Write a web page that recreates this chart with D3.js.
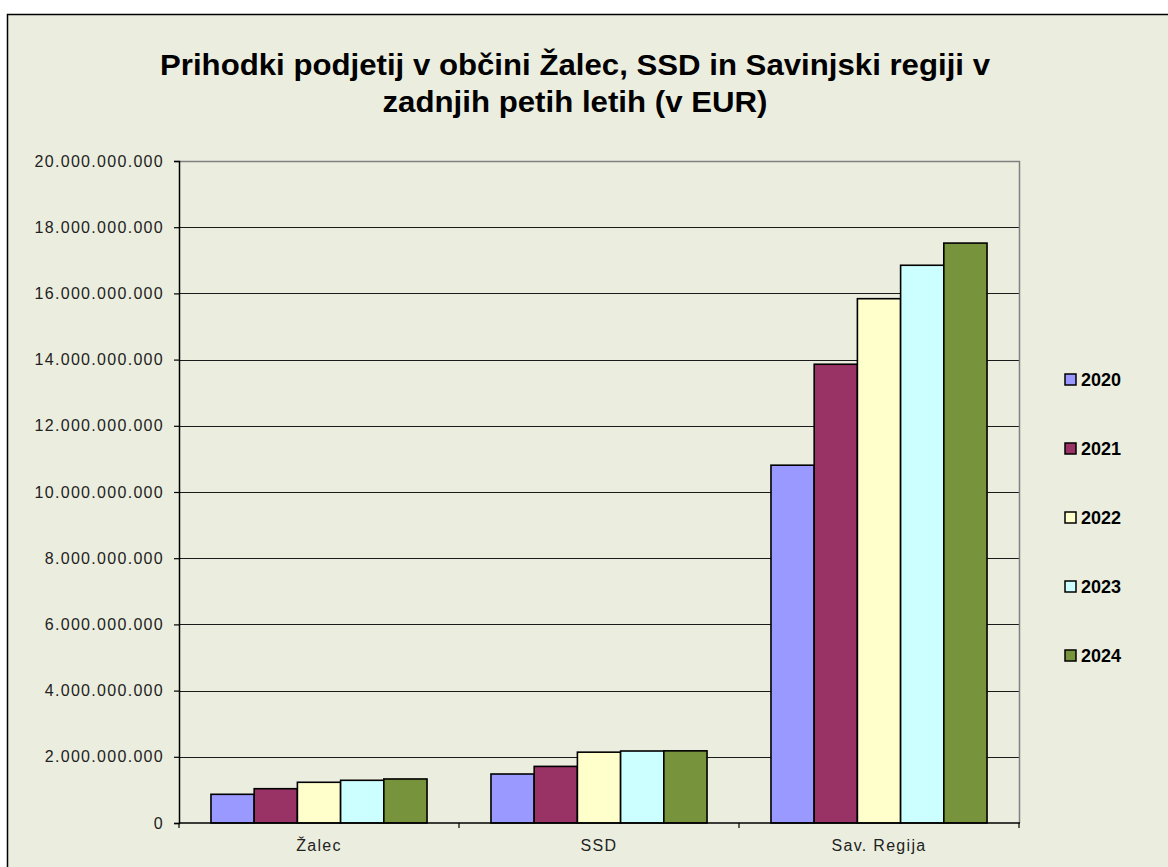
<!DOCTYPE html>
<html>
<head>
<meta charset="utf-8">
<script src="https://cdn.jsdelivr.net/npm/d3@7"></script>
<style>
  body { margin: 0; background: #fff; }
  svg { display: block; }
</style>
</head>
<body>
<div id="chart"></div>
<script>
// Podatki
const categories = ["Žalec", "SSD", "Sav. Regija"];
const years = ["2020", "2021", "2022", "2023", "2024"];
const values2020 = [0.867e9, 1.48e9, 10.81e9];
const values2021 = [1.036e9, 1.71e9, 13.86e9];
const values2022 = [1.23e9, 2.14e9, 15.84e9];
const values2023 = [1.29e9, 2.175e9, 16.85e9];
const values2024 = [1.33e9, 2.18e9, 17.52e9];
const yTicks = [0, 2e9, 4e9, 6e9, 8e9, 10e9, 12e9, 14e9, 16e9, 18e9, 20e9];
const colors = ["#9999FF", "#993366", "#FFFFCC", "#CCFFFF", "#77933C"];

const series = [values2020, values2021, values2022, values2023, values2024];

const width = 1168, height = 867;
const plot = { left: 179, top: 161, right: 1019, bottom: 823 };

const svg = d3.select("#chart").append("svg")
    .attr("width", width)
    .attr("height", height);

// Ozadje grafikona
svg.append("rect")
    .attr("x", 7.5).attr("y", 14.5)
    .attr("width", 1170).attr("height", 870)
    .attr("fill", "#EBEEDF")
    .attr("stroke", "#000")
    .attr("stroke-width", 1.5);

// Lestvice
const x0 = d3.scaleBand()
    .domain(categories)
    .range([plot.left, plot.right])
    .padding(0);

const x1 = d3.scaleBand()
    .domain(years)
    .range([0, x0.bandwidth()])
    .paddingInner(0)
    .paddingOuter(0.74);

const y = d3.scaleLinear()
    .domain([0, 20e9])
    .range([plot.bottom, plot.top]);

const fmt = d3.formatLocale({ decimal: ",", thousands: ".", grouping: [3], currency: ["", " €"] }).format(",");

// Mreža
svg.append("g")
    .selectAll("line")
    .data(yTicks.filter(d => d > 0 && d < 20e9))
    .enter().append("line")
    .attr("x1", plot.left).attr("x2", plot.right)
    .attr("y1", d => Math.round(y(d)) + 0.5)
    .attr("y2", d => Math.round(y(d)) + 0.5)
    .attr("stroke", "#1a1a1a")
    .attr("stroke-width", 1);

// Okvir risalne površine (zgoraj in desno)
svg.append("path")
    .attr("d", `M${plot.left},${plot.top + 0.5}H${plot.right + 0.5}V${plot.bottom}`)
    .attr("fill", "none")
    .attr("stroke", "#808080")
    .attr("stroke-width", 1.5);

// Stolpci
const groups = svg.append("g")
    .selectAll("g")
    .data(categories)
    .enter().append("g")
    .attr("transform", d => `translate(${x0(d)},0)`);

groups.selectAll("rect")
    .data((c, ci) => years.map((yr, i) => ({ year: yr, value: series[i][ci], color: colors[i] })))
    .enter().append("rect")
    .attr("x", d => x1(d.year))
    .attr("y", d => y(d.value))
    .attr("width", x1.bandwidth())
    .attr("height", d => plot.bottom - y(d.value))
    .attr("fill", d => d.color)
    .attr("stroke", "#000")
    .attr("stroke-width", 1.6);

// Os Y
const yAxis = svg.append("g")
    .attr("transform", `translate(${plot.left},0)`)
    .call(d3.axisLeft(y).tickValues(yTicks).tickFormat(fmt).tickSize(5).tickPadding(10));

yAxis.select(".domain").attr("stroke", "#000").attr("stroke-width", 1.5);
yAxis.selectAll(".tick line").attr("stroke", "#000").attr("stroke-width", 1.2);
yAxis.selectAll("text")
    .style("font-family", "Arial, 'Liberation Sans', sans-serif")
    .style("font-size", "16px")
    .style("letter-spacing", "1.3px")
    .attr("fill", "#222");

// Os X
const xAxisG = svg.append("g")
    .attr("transform", `translate(0,${plot.bottom})`);

xAxisG.append("line")
    .attr("x1", plot.left).attr("x2", plot.right + 1)
    .attr("y1", 0).attr("y2", 0)
    .attr("stroke", "#000").attr("stroke-width", 1.5);

xAxisG.selectAll(".xtick")
    .data(categories.map(c => x0(c)).concat([plot.right]))
    .enter().append("line")
    .attr("x1", d => d).attr("x2", d => d)
    .attr("y1", 0).attr("y2", 5)
    .attr("stroke", "#000").attr("stroke-width", 1.2);

xAxisG.selectAll(".xlabel")
    .data(categories)
    .enter().append("text")
    .attr("x", d => x0(d) + x0.bandwidth() / 2)
    .attr("y", 28)
    .attr("text-anchor", "middle")
    .style("font-family", "Arial, 'Liberation Sans', sans-serif")
    .style("font-size", "16px")
    .style("letter-spacing", "1.3px")
    .attr("fill", "#222")
    .text(d => d);

// Legenda
const legend = svg.append("g")
    .selectAll("g")
    .data(years)
    .enter().append("g")
    .attr("transform", (d, i) => `translate(1065,${374 + i * 69})`);

legend.append("rect")
    .attr("width", 11).attr("height", 11)
    .attr("fill", (d, i) => colors[i])
    .attr("stroke", "#000")
    .attr("stroke-width", 1.5);

legend.append("text")
    .attr("x", 16)
    .attr("y", 12)
    .style("font-family", "Arial, 'Liberation Sans', sans-serif")
    .style("font-size", "18px")
    .style("font-weight", "700")
    .attr("fill", "#000")
    .text(d => d);

// Naslov
const titleLines = [
    { text: "Prihodki podjetij v občini Žalec, SSD in Savinjski regiji v", y: 75, len: 830 },
    { text: "zadnjih petih letih (v EUR)", y: 112, len: 385 }
];

svg.append("g")
    .selectAll("text")
    .data(titleLines)
    .enter().append("text")
    .attr("x", 575)
    .attr("y", d => d.y)
    .attr("text-anchor", "middle")
    .attr("textLength", d => d.len)
    .attr("lengthAdjust", "spacingAndGlyphs")
    .style("font-family", "Arial, 'Liberation Sans', sans-serif")
    .style("font-size", "30px")
    .style("font-weight", "700")
    .attr("fill", "#000")
    .text(d => d.text);
</script>
</body>
</html>
